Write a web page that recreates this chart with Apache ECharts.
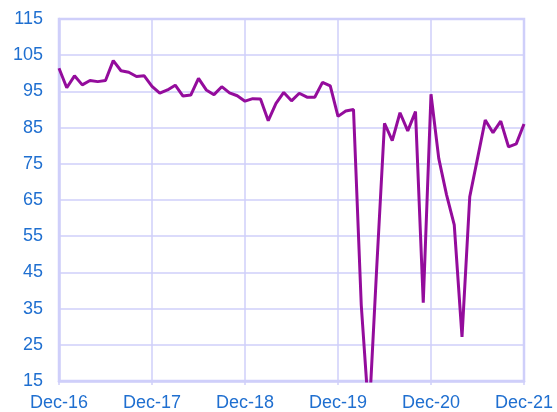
<!DOCTYPE html>
<html>
<head>
<meta charset="utf-8">
<script src="https://cdn.jsdelivr.net/npm/echarts@6/dist/echarts.min.js"></script>
<style>
  html, body { margin: 0; padding: 0; background: #fff; }
  #chart { width: 557px; height: 412px; }
</style>
</head>
<body>
<div id="chart"></div>
<script>
// 月份与年份，用来拼出类目轴 Dec-16 ... Dec-21
var monthNames = ['Jan', 'Feb', 'Mar', 'Apr', 'May', 'Jun', 'Jul', 'Aug', 'Sep', 'Oct', 'Nov', 'Dec'];
var startYear = 16;
var endYear = 21;

// 纵轴刻度
var yMin = 15;
var yMax = 115;
var yStep = 10;

// 每月数值
var values = [
    101.4, 96.0, 99.3, 96.8, 98.0, 97.7, 98.0, 103.5, 100.7, 100.3, 99.1, 99.3,
    96.4, 94.5, 95.4, 96.7, 93.7, 94.0, 98.6, 95.4, 94.1, 96.3, 94.6, 93.8,
    92.3, 93.0, 92.9, 86.9, 91.7, 94.7, 92.4, 94.5, 93.4, 93.4, 97.5, 96.5,
    88.1, 89.6, 90.0, 36.0, 5.0, 46.5, 86.2, 81.4, 89.1, 84.1, 89.4, 36.6,
    94.2, 76.5, 66.5, 58.1, 27.2, 65.9, 76.5, 87.1, 83.6, 86.8, 79.7, 80.5,
    86.0
];

var categories = ['Dec-' + startYear];
for (var y = startYear + 1; y <= endYear; y++) {
    for (var m = 0; m < 12; m++) {
        categories.push(monthNames[m] + '-' + y);
    }
}

var gridColor = '#CFCFFA';
var labelColor = '#1F6FD0';

var myChart = echarts.init(document.getElementById('chart'));
var option = {
    animation: false,
    grid: {
        left: 59,
        right: 33,
        top: 19,
        bottom: 31,
        show: true,
        borderColor: gridColor,
        borderWidth: 2.5
    },
    xAxis: {
        type: 'category',
        data: categories,
        boundaryGap: false,
        axisLine: { lineStyle: { color: gridColor, width: 2.5 } },
        axisTick: {
            interval: 11,
            length: 4,
            lineStyle: { color: gridColor, width: 1.5 }
        },
        axisLabel: {
            interval: 11,
            color: labelColor,
            fontFamily: 'Liberation Sans',
            fontSize: 18,
            margin: 13
        },
        splitLine: {
            show: true,
            interval: 11,
            lineStyle: { color: gridColor, width: 1.5 }
        }
    },
    yAxis: {
        type: 'value',
        min: yMin,
        max: yMax,
        interval: yStep,
        axisLine: { show: true, lineStyle: { color: gridColor, width: 2.5 } },
        axisTick: { show: false },
        axisLabel: {
            color: labelColor,
            fontFamily: 'Liberation Sans',
            fontSize: 18,
            margin: 16
        },
        splitLine: { lineStyle: { color: gridColor, width: 1.5 } }
    },
    series: [{
        type: 'line',
        data: values,
        showSymbol: false,
        clip: true,
        lineStyle: { color: '#940C9C', width: 3 }
    }]
};
myChart.setOption(option);
</script>
</body>
</html>
